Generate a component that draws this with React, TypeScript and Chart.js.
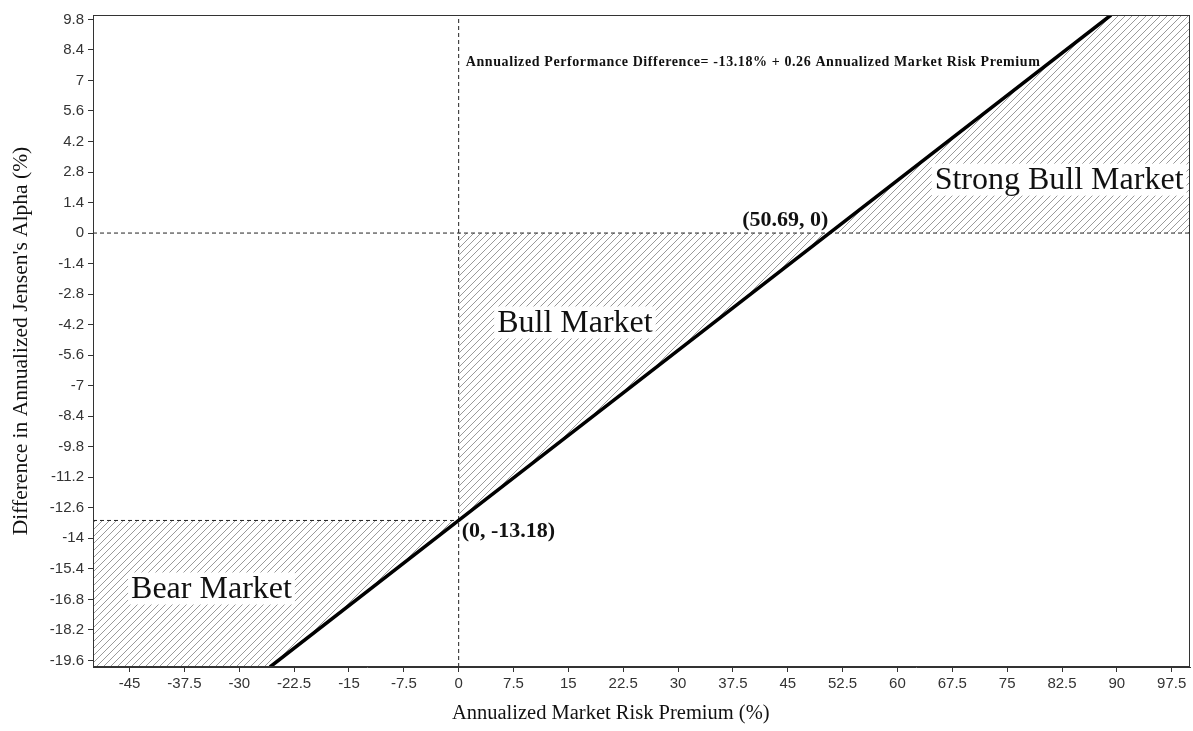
import React, { useEffect, useRef } from "react";
import { Chart, registerables } from "chart.js";

Chart.register(...registerables);

// ---- data ----
const X_MIN = -50;
const X_MAX = 100;
const Y_MIN = -19.9;
const Y_MAX = 10;

const xTickValues = [-45, -37.5, -30, -22.5, -15, -7.5, 0, 7.5, 15, 22.5, 30, 37.5, 45, 52.5, 60, 67.5, 75, 82.5, 90, 97.5];
const yTickValues = [9.8, 8.4, 7, 5.6, 4.2, 2.8, 1.4, 0, -1.4, -2.8, -4.2, -5.6, -7, -8.4, -9.8, -11.2, -12.6, -14, -15.4, -16.8, -18.2, -19.6];

// regression line: Annualized Performance Difference = -13.18% + 0.26 * MRP
const lineX = [-25.8, 0, 50.69, 89.2];
const lineY = [-19.9, -13.18, 0, 10];

// hatched regions (boundary points + fill reference value)
const bearX = [-50, -25.8, 0];
const bearY = [-19.9, -19.9, -13.18];
const bearRef = -13.18;

const bullX = [0, 50.69];
const bullY = [-13.18, 0];
const bullRef = 0;

const strongX = [50.69, 89.2, 100];
const strongY = [0, 10, 10];
const strongRef = 0;

// dashed reference lines
const vZeroX = [0, 0];
const vZeroY = [-19.9, 10];
const hZeroX = [-50, 100];
const hZeroY = [0, 0];
const hInterceptX = [-50, 0];
const hInterceptY = [-13.18, -13.18];

const regionNames = ["Strong Bull Market", "Bull Market", "Bear Market"];
const regionNameX = [82.1, 15.9, -33.8];
const regionNameY = [2.45, -4.1, -16.3];

const equationText = "Annualized Performance Difference= -13.18% + 0.26 Annualized Market Risk Premium";
const breakevenLabel = "(50.69, 0)";
const interceptLabel = "(0, -13.18)";

const xTitle = "Annualized Market Risk Premium (%)";
const yTitle = "Difference in Annualized Jensen's Alpha (%)";

const pts = (xs: number[], ys: number[]) => xs.map((x, i) => ({ x, y: ys[i] }));

function makeHatch(): CanvasPattern | string {
  const s = 7;
  const c = document.createElement("canvas");
  c.width = s;
  c.height = s;
  const g = c.getContext("2d");
  if (!g) return "#ddd";
  g.strokeStyle = "#9a9a9a";
  g.lineWidth = 1;
  g.beginPath();
  g.moveTo(-1, s + 1);
  g.lineTo(s + 1, -1);
  g.moveTo(-1, 1);
  g.lineTo(1, -1);
  g.moveTo(s - 1, s + 1);
  g.lineTo(s + 1, s - 1);
  g.stroke();
  const p = g.createPattern(c, "repeat");
  return p || "#ddd";
}

const SERIF = '"Liberation Serif", "Times New Roman", serif';
const SANS = '"Liberation Sans", Arial, sans-serif';

const annotationPlugin = {
  id: "annotations",
  beforeDatasetsDraw(chart: any) {
    const { ctx, chartArea } = chart;
    ctx.save();
    ctx.fillStyle = "#ffffff";
    ctx.fillRect(chartArea.left, chartArea.top, chartArea.right - chartArea.left, chartArea.bottom - chartArea.top);
    ctx.restore();
  },
  afterDatasetsDraw(chart: any) {
    const { ctx, chartArea, scales } = chart;
    const xs = scales.x;
    const ys = scales.y;
    ctx.save();
    // region names with white boxes
    ctx.font = `32px ${SERIF}`;
    ctx.textAlign = "center";
    ctx.textBaseline = "middle";
    regionNames.forEach((t, i) => {
      const px = xs.getPixelForValue(regionNameX[i]);
      const py = ys.getPixelForValue(regionNameY[i]);
      const w = ctx.measureText(t).width;
      ctx.fillStyle = "#ffffff";
      ctx.fillRect(px - w / 2 - 3, py - 16, w + 6, 32);
      ctx.fillStyle = "#111111";
      ctx.fillText(t, px, py + 1);
    });

    // point labels
    ctx.font = `bold 22px ${SERIF}`;
    ctx.fillStyle = "#111111";
    ctx.textBaseline = "alphabetic";
    ctx.textAlign = "right";
    ctx.fillText(breakevenLabel, xs.getPixelForValue(50.69) - 1, ys.getPixelForValue(0) - 7);
    ctx.textAlign = "left";
    ctx.fillText(interceptLabel, xs.getPixelForValue(0) + 3, ys.getPixelForValue(-13.18) + 17);

    // equation
    ctx.font = `bold 14px ${SERIF}`;
    try {
      (ctx as any).letterSpacing = "0.6px";
    } catch (e) {}
    ctx.textAlign = "left";
    ctx.fillText(equationText, xs.getPixelForValue(0) + 7, chartArea.top + 51);
    try {
      (ctx as any).letterSpacing = "0px";
    } catch (e) {}

    // plot frame
    ctx.strokeStyle = "#333333";
    ctx.lineWidth = 1;
    ctx.strokeRect(chartArea.left + 0.5, chartArea.top + 0.5, chartArea.right - chartArea.left - 1, chartArea.bottom - chartArea.top - 1);
    ctx.restore();
  },
};

export default function App() {
  const ref = useRef<HTMLCanvasElement | null>(null);

  useEffect(() => {
    if (!ref.current) return;
    const hatch = makeHatch();
    const dashed = (xs: number[], ys: number[]) => ({
      data: pts(xs, ys),
      borderColor: "#222222",
      borderWidth: 1,
      borderDash: [4, 3],
      pointRadius: 0,
      fill: false,
      tension: 0,
    });
    const region = (xs: number[], ys: number[], ref: number) => ({
      data: pts(xs, ys),
      borderWidth: 0,
      borderColor: "rgba(0,0,0,0)",
      backgroundColor: hatch,
      pointRadius: 0,
      fill: { value: ref },
      tension: 0,
    });

    const chart = new Chart(ref.current, {
      type: "line",
      data: {
        datasets: [
          {
            data: pts(lineX, lineY),
            borderColor: "#000000",
            borderWidth: 3.5,
            pointRadius: 0,
            fill: false,
            tension: 0,
          } as any,
          dashed(vZeroX, vZeroY),
          dashed(hZeroX, hZeroY),
          dashed(hInterceptX, hInterceptY),
          region(bearX, bearY, bearRef),
          region(bullX, bullY, bullRef),
          region(strongX, strongY, strongRef),
        ],
      },
      options: {
        responsive: false,
        animation: false,
        events: [],
        layout: { padding: { top: 15, right: 3, left: 0, bottom: 0 } },
        plugins: {
          legend: { display: false },
          tooltip: { enabled: false },
        },
        scales: {
          x: {
            type: "linear",
            min: X_MIN,
            max: X_MAX,
            afterBuildTicks: (s: any) => {
              s.ticks = xTickValues.map((v) => ({ value: v }));
            },
            afterFit: (s: any) => {
              s.height = 64;
            },
            ticks: {
              autoSkip: false,
              maxRotation: 0,
              padding: 3,
              color: "#333333",
              font: { family: SANS, size: 15 },
              callback: (v: any) => String(v),
            },
            grid: { drawOnChartArea: false, tickLength: 5, color: "#333333" },
            border: { display: true, color: "#333333" },
            title: {
              display: true,
              text: xTitle + "\u00a0".repeat(12),
              color: "#111111",
              font: { family: SERIF, size: 20.5 },
              padding: { top: 0, bottom: 5 },
            },
          },
          y: {
            type: "linear",
            min: Y_MIN,
            max: Y_MAX,
            afterBuildTicks: (s: any) => {
              s.ticks = yTickValues.map((v) => ({ value: v }));
            },
            afterFit: (s: any) => {
              s.width = 93;
            },
            ticks: {
              autoSkip: false,
              padding: 4,
              color: "#333333",
              font: { family: SANS, size: 15 },
              callback: (v: any) => String(v),
            },
            grid: { drawOnChartArea: false, tickLength: 5, color: "#333333" },
            border: { display: true, color: "#333333" },
            title: {
              display: true,
              text: yTitle,
              color: "#111111",
              font: { family: SERIF, size: 21.5 },
              padding: { top: 8, bottom: 0 },
            },
          },
        },
      } as any,
      plugins: [annotationPlugin as any],
    });
    return () => chart.destroy();
  }, []);

  return (
    <div style={{ position: "absolute", left: 0, top: 0, width: 1193, height: 731, background: "#fff" }}>
      <canvas ref={ref} width={1193} height={731} />
    </div>
  );
}
